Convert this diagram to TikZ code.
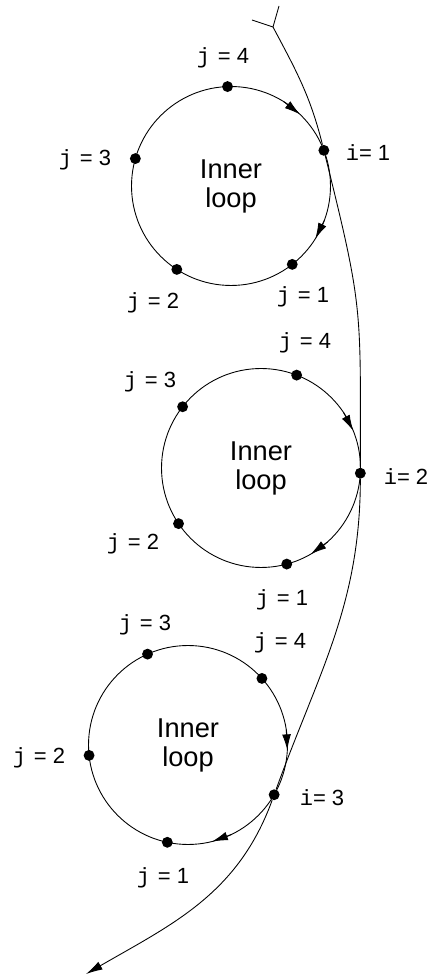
\documentclass[tikz,border=0pt]{standalone}
\usepackage{fontspec}
\setmainfont{Liberation Sans}
\setmonofont{Liberation Mono}
\usetikzlibrary{arrows.meta}

\newcommand{\jlab}[1]{{\ttfamily j}\hspace{1pt} = #1}
\newcommand{\ilab}[1]{{\ttfamily i}= #1}

\begin{document}
\begin{tikzpicture}[x=0.02cm, y=0.02cm,
      line width=0.5pt,
      arr/.style={-{Latex[length=9.5pt, width=5pt]}},
      tip/.style={-{Latex[length=9pt, width=5pt]}},
      loopc/.style={circle, draw, minimum size=3.98cm, inner sep=0pt,
                    outer sep=0pt, align=center,
                    font=\fontsize{15.5}{16.5}\selectfont},
      dot/.style={circle, fill, minimum size=6.2pt, inner sep=0pt},
      lab/.style={inner sep=0pt, font=\fontsize{12.5}{14}\selectfont}
    ]
    \useasboundingbox (0,0) rectangle (432,978);
    % the three inner loops
    \node[loopc] (c1) at (231,792) {Inner\\loop};
    \node[loopc] (c2) at (261,510) {Inner\\loop};
    \node[loopc] (c3) at (188,233) {Inner\\loop};
    % direction marks on the loops
    \draw[tip] (c1.58) -- (c1.46);
    \draw[tip] (c1.-20) -- (c1.-32);
    \draw[tip] (c2.34) -- (c2.22);
    \draw[tip] (c2.-48) -- (c2.-60);
    \draw[tip] (c3.9) -- (c3.-3);
    \draw[tip] (c3.-64) -- (c3.-76);
    % points on the loops
    \node[dot] (c1j4) at (c1.92) {};
    \node[dot] (c1j3) at (c1.164) {};
    \node[dot] (c1j2) at (c1.237) {};
    \node[dot] (c1j1) at (c1.308) {};
    \node[dot] (i1) at (c1.21) {};
    \node[dot] (c2j4) at (c2.69) {};
    \node[dot] (c2j3) at (c2.142) {};
    \node[dot] (c2j2) at (c2.214) {};
    \node[dot] (c2j1) at (c2.285) {};
    \node[dot] (i2) at (c2.-3) {};
    \node[dot] (c3j4) at (c3.42) {};
    \node[dot] (c3j3) at (c3.114) {};
    \node[dot] (c3j2) at (c3.186) {};
    \node[dot] (c3j1) at (c3.258) {};
    \node[dot] (i3) at (c3.-30) {};
    % outer loop
    \coordinate (start) at (273,951);
    \coordinate (forkl) at (252,958);
    \coordinate (forkr) at (279,972);
    \coordinate (finish) at (86,4);
    \draw (forkl) -- (start) -- (forkr);
    \draw[arr] (start) to[out=-62, in=104] (i1)
      to[out=-76, in=90, looseness=1.3] (i2)
      to[out=-90, in=70] (i3)
      to[out=-110, in=30] (finish);
    % labels
    \node[lab] (l1j4) at (223,920) {\jlab{4}};
    \node[lab] (l1j3) at (85,818) {\jlab{3}};
    \node[lab] (l1j2) at (153,675) {\jlab{2}};
    \node[lab] (l1j1) at (303,681) {\jlab{1}};
    \node[lab] (l1i) at (368,825) {\ilab{1}};
    \node[lab] (l2j4) at (305,635) {\jlab{4}};
    \node[lab] (l2j3) at (150,596) {\jlab{3}};
    \node[lab] (l2j2) at (133,434) {\jlab{2}};
    \node[lab] (l2j1) at (282,378) {\jlab{1}};
    \node[lab] (l2i) at (406,501) {\ilab{2}};
    \node[lab] (l3j4) at (280,335) {\jlab{4}};
    \node[lab] (l3j3) at (145,353) {\jlab{3}};
    \node[lab] (l3j2) at (39,220) {\jlab{2}};
    \node[lab] (l3j1) at (163,100) {\jlab{1}};
    \node[lab] (l3i) at (322,180) {\ilab{3}};
  \end{tikzpicture}
\end{document}
